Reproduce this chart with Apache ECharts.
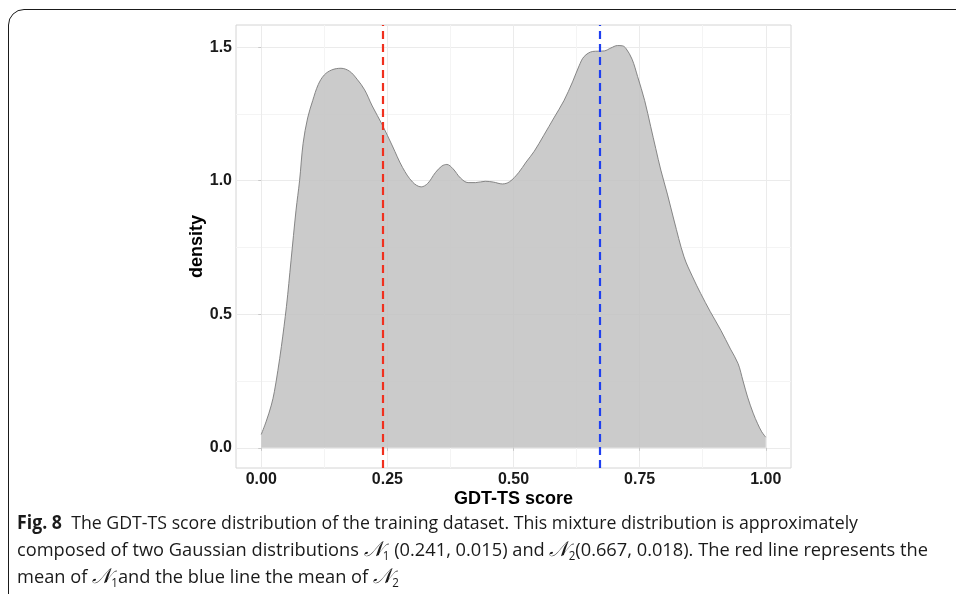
<!DOCTYPE html>
<html>
<head>
<meta charset="utf-8">
<script src="https://cdn.jsdelivr.net/npm/echarts@6/dist/echarts.min.js"></script>
<style>
  html, body { margin: 0; padding: 0; background: #fff; width: 956px; height: 594px; overflow: hidden; }
  #frame { position: absolute; left: 8px; top: 9px; width: 1000px; height: 640px;
           border: 1.3px solid #1a1a1a; border-radius: 16px; box-sizing: border-box; }
  #chart { position: absolute; left: 0; top: 0; width: 956px; height: 594px; }
  #caption { position: absolute; left: 17px; top: 509px; font-family: "Open Sans", "Noto Sans", sans-serif;
             font-size: 19px; line-height: 27px; color: #1a1a1a; white-space: nowrap; }
  #caption .ln { display: block; transform-origin: 0 50%; width: max-content; }
  #caption b { font-weight: 700; }
  .N { font-family: "DejaVu Serif", serif; font-style: italic; font-size: 21px; }
  sub { font-size: 12px; vertical-align: -4px; line-height: 0; }
</style>
</head>
<body>
<div id="frame"></div>
<div id="chart"></div>
<div id="caption">
  <span class="ln" data-w="841"><b>Fig. 8</b>&nbsp; The GDT-TS score distribution of the training dataset. This mixture distribution is approximately</span>
  <span class="ln" data-w="911">composed of two Gaussian distributions <span class="N">𝒩</span><sub>1</sub> (0.241, 0.015) and <span class="N">𝒩</span><sub>2</sub>(0.667, 0.018). The red line represents the</span>
  <span class="ln">mean of <span class="N">𝒩</span><sub>1</sub>and the blue line the mean of <span class="N">𝒩</span><sub>2</sub></span>
</div>
<script>
// ---- data ----
const scoreX = [0.000, 0.010, 0.020, 0.026, 0.033, 0.040, 0.050, 0.059, 0.069, 0.076,
  0.083, 0.092, 0.102, 0.113, 0.125, 0.140, 0.158, 0.175, 0.190, 0.205,
  0.220, 0.240, 0.260, 0.280, 0.300, 0.317, 0.330, 0.345, 0.358, 0.368,
  0.380, 0.395, 0.410, 0.425, 0.444, 0.460, 0.478, 0.492, 0.510, 0.525,
  0.541, 0.560, 0.580, 0.600, 0.617, 0.630, 0.640, 0.657, 0.668, 0.680,
  0.693, 0.706, 0.716, 0.723, 0.735, 0.746, 0.760, 0.772, 0.782, 0.792,
  0.805, 0.818, 0.838, 0.855, 0.871, 0.890, 0.911, 0.930, 0.945, 0.955,
  0.964, 0.975, 0.984, 0.992, 1.000];
const densityY = [0.05, 0.10, 0.16, 0.21, 0.29, 0.38, 0.53, 0.70, 0.89, 1.00,
  1.14, 1.235, 1.30, 1.36, 1.396, 1.415, 1.421, 1.41, 1.38, 1.34,
  1.28, 1.209, 1.13, 1.05, 0.995, 0.977, 0.99, 1.03, 1.055, 1.061,
  1.045, 1.01, 0.993, 0.993, 0.998, 0.995, 0.988, 0.996, 1.03, 1.07,
  1.11, 1.17, 1.235, 1.30, 1.37, 1.43, 1.465, 1.484, 1.485, 1.486,
  1.497, 1.506, 1.505, 1.495, 1.455, 1.39, 1.30, 1.202, 1.12, 1.04,
  0.95, 0.853, 0.715, 0.64, 0.578, 0.51, 0.44, 0.37, 0.316, 0.25,
  0.19, 0.13, 0.09, 0.06, 0.04];
const xTickLabels = [0, 0.25, 0.5, 0.75, 1];
const xMinorTicks = [0.125, 0.375, 0.625, 0.875];
const yTickLabels = [0, 0.5, 1, 1.5];
const yMinorTicks = [0.25, 0.75, 1.25];
const meanValues = [0.241, 0.667];
const meanColors = ['#f0301e', '#1e3ff0'];

const chart = echarts.init(document.getElementById('chart'), null, { renderer: 'canvas' });
const labelFont = { fontFamily: 'Liberation Sans, Arial, sans-serif', fontWeight: 'bold', fontSize: 16, color: '#1a1a1a' };
const X_MIN = -0.05, X_MAX = 1.05, Y_MIN = -0.0754, Y_MAX = 1.583;

chart.setOption({
  animation: false,
  grid: { left: 236, top: 25, width: 555, height: 443, show: true, borderColor: '#d4d4d4', borderWidth: 1, backgroundColor: 'transparent' },
  xAxis: [
    { type: 'value', min: X_MIN, max: X_MAX, position: 'bottom',
      axisLine: { show: false },
      axisTick: { show: true, customValues: xTickLabels, length: 3, lineStyle: { color: '#c8c8c8' } },
      axisLabel: Object.assign({ customValues: xTickLabels, margin: 4, formatter: v => v.toFixed(2) }, labelFont),
      splitLine: { show: true, lineStyle: { color: '#ebebeb', width: 1 } },
      name: 'GDT-TS score', nameLocation: 'middle', nameGap: 22, nameMoveOverlap: false,
      nameTextStyle: { fontFamily: 'Liberation Sans, Arial, sans-serif', fontWeight: 'bold', fontSize: 18, color: '#000' } },
    { type: 'value', min: X_MIN, max: X_MAX, position: 'bottom',
      axisLine: { show: false }, axisLabel: { show: false },
      axisTick: { show: false, customValues: xMinorTicks },
      splitLine: { show: true, lineStyle: { color: '#f4f4f4', width: 1 } } }
  ],
  yAxis: [
    { type: 'value', min: Y_MIN, max: Y_MAX, position: 'left',
      axisLine: { show: false },
      axisTick: { show: true, customValues: yTickLabels, length: 3, lineStyle: { color: '#c8c8c8' } },
      axisLabel: Object.assign({ customValues: yTickLabels, margin: 4, formatter: v => v.toFixed(1) }, labelFont),
      splitLine: { show: true, lineStyle: { color: '#ebebeb', width: 1 } },
      name: 'density', nameLocation: 'middle', nameGap: 30, nameRotate: 90, nameMoveOverlap: false,
      nameTextStyle: { fontFamily: 'Liberation Sans, Arial, sans-serif', fontWeight: 'bold', fontSize: 18, color: '#000' } },
    { type: 'value', min: Y_MIN, max: Y_MAX, position: 'left',
      axisLine: { show: false }, axisLabel: { show: false },
      axisTick: { show: false, customValues: yMinorTicks },
      splitLine: { show: true, lineStyle: { color: '#f4f4f4', width: 1 } } }
  ],
  series: [
    { type: 'line', xAxisIndex: 0, yAxisIndex: 0,
      data: scoreX.map((x, i) => [x, densityY[i]]),
      showSymbol: false, smooth: 0.35,
      lineStyle: { color: '#7a7a7a', width: 0.9 },
      areaStyle: { color: '#c2c2c2', opacity: 0.85 },
      markLine: {
        silent: true, symbol: ['none', 'none'], label: { show: false },
        data: meanValues.map((v, i) => ({ xAxis: v, lineStyle: { color: meanColors[i], type: [8, 5], width: 2.2 } }))
      },
      z: 3 }
  ]
});

// fit caption lines to the reference widths (last line uses the same squeeze as line 2)
let lastScale = 1;
document.querySelectorAll('#caption .ln').forEach(el => {
  const w = el.getBoundingClientRect().width;
  if (el.dataset.w && w > 0) lastScale = +el.dataset.w / w;
  el.style.transform = 'scaleX(' + lastScale + ')';
});
</script>
</body>
</html>
